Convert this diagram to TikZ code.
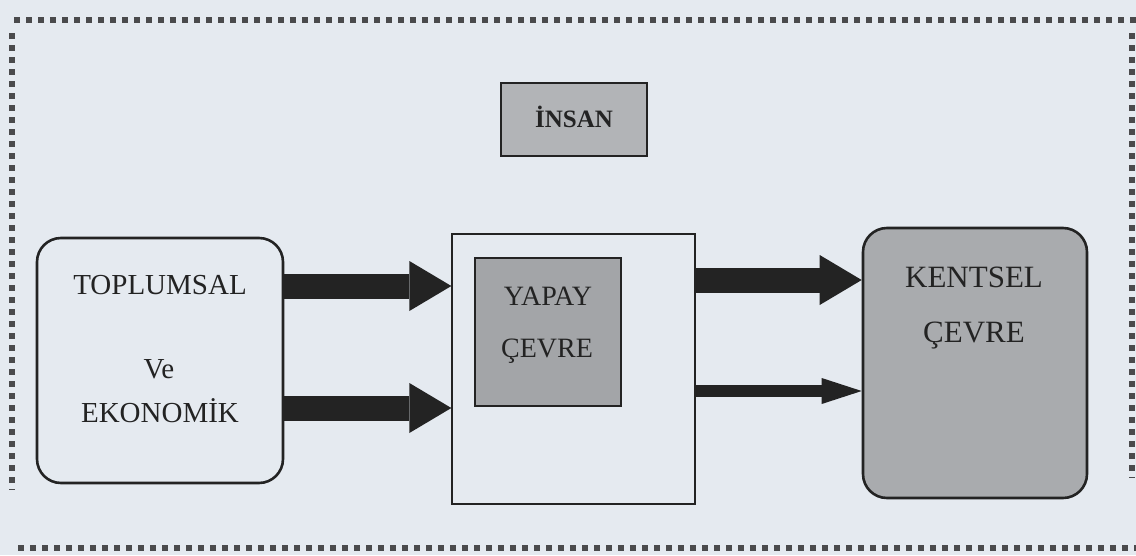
\documentclass[tikz,border=0pt]{standalone}
\usepackage{fontspec}
\setmainfont{Liberation Serif}
\usetikzlibrary{arrows.meta}
\definecolor{paper}{HTML}{E5EAF0}
\definecolor{ink}{HTML}{232323}
\definecolor{greyA}{HTML}{B2B4B7}
\definecolor{greyB}{HTML}{A3A5A8}
\definecolor{greyC}{HTML}{A9ABAE}
\definecolor{dotc}{HTML}{4A4A4C}
\tikzset{
  frame/.style={dotc, line width=5.5pt, dash pattern=on 5.5pt off 6.5pt},
  roundbox/.style={draw=ink, line width=2.6pt, rounded corners=24pt, inner sep=0pt},
  plainbox/.style={draw=ink, line width=1.3pt, inner sep=0pt},
  greybox/.style={draw=ink, line width=2pt, inner sep=0pt},
  lbl/.style={text=ink, anchor=base, inner sep=0pt, font=\fontsize{29}{32}\selectfont},
  biglbl/.style={text=ink, anchor=base, inner sep=0pt, font=\fontsize{31}{34}\selectfont},
  fatarrow/.style={ink, line width=25pt, -{Triangle[length=42pt, width=50pt, line width=0pt]}},
  thinarrow/.style={ink, line width=12pt, -{Triangle[length=40pt, width=26pt, line width=0pt]}}
}
\begin{document}
\begin{tikzpicture}[x=1pt, y=-1pt]
  % page and dotted frame
  \fill[paper] (0,0) rectangle (1136,555);
  \useasboundingbox (0,0) rectangle (1136,555);
  \draw[frame] (14,20) -- (1136,20);
  \draw[frame] (12,33) -- (12,490);
  \draw[frame] (1132,33) -- (1132,478);
  \draw[frame] (18,548) -- (1136,548);

  % boxes
  \node[greybox, fill=greyA, minimum width=146pt, minimum height=73pt] (human) at (574,119.5) {};
  \node[roundbox, minimum width=246pt, minimum height=245pt] (soc) at (160,360.5) {};
  \node[plainbox, minimum width=243pt, minimum height=270pt] (built) at (573.5,369) {};
  \node[greybox, fill=greyB, minimum width=146pt, minimum height=148pt] (art) at (548,332) {};
  \node[roundbox, fill=greyC, minimum width=224pt, minimum height=270pt] (urban) at (975,363) {};

  % labels
  \node[text=ink, anchor=base, inner sep=0pt, font=\bfseries\fontsize{25}{28}\selectfont] (humant) at (574,127) {İNSAN};
  \node[lbl] (soc1) at (160,294) {TOPLUMSAL};
  \node[lbl] (soc2) at (159,378) {Ve};
  \node[lbl] (soc3) at (160,422) {EKONOMİK};
  \node[lbl, font=\fontsize{28}{31}\selectfont] (art1) at (548,305) {YAPAY};
  \node[lbl, font=\fontsize{28}{31}\selectfont] (art2) at (547,357) {ÇEVRE};
  \node[biglbl] (urban1) at (974,287) {KENTSEL};
  \node[biglbl] (urban2) at (974,342) {ÇEVRE};

  % connectors
  \draw[fatarrow] (soc.east |- 0,286) -- (built.west |- 0,286);
  \draw[fatarrow] (soc.east |- 0,408) -- (built.west |- 0,408);
  \draw[fatarrow] (built.east |- 0,280) -- (urban.west |- 0,280);
  \draw[thinarrow] (built.east |- 0,391) -- (urban.west |- 0,391);
\end{tikzpicture}
\end{document}
